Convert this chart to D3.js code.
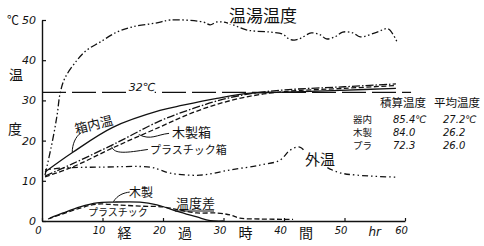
<!DOCTYPE html>
<html>
<head>
<meta charset="utf-8">
<script src="https://cdn.jsdelivr.net/npm/d3@7"></script>
<style>
  body { margin: 0; background: #fff; }
  svg { display: block; }
  text { font-family: "Noto Sans CJK JP", "Noto Sans", sans-serif; fill: #111; }
  .num { font-style: italic; font-family: "DejaVu Sans", sans-serif; }
</style>
</head>
<body>
<script>
// elapsed hours / temperature (°C)
const hotWaterT = [0.5, 1.7, 2.5, 3.0, 3.8, 5.8, 7.4, 9.6, 12.4, 15.0, 19.0, 21.2, 26.6, 27.8, 28.9, 30.6, 33.9, 37.7, 39.8, 40.8, 41.7, 42.8, 44.5, 46.0, 47.0, 48.4, 49.7, 51.4, 52.6, 55.4, 57.2, 58.7];
const hotWaterV = [11.4, 19.7, 26.4, 31.8, 35.6, 40.0, 42.5, 44.5, 47.0, 48.3, 49.3, 50.0, 49.5, 48.8, 49.5, 49.3, 47.5, 47.0, 46.5, 45.3, 45.0, 45.5, 46.8, 46.3, 45.3, 45.8, 47.0, 46.8, 45.8, 47.0, 47.8, 44.5];

const boxInT = [0.5, 5.1, 11.7, 19.5, 23.3, 28.9, 34.4, 38.8, 43.1, 49.3, 58.5];
const boxInV = [12.2, 17.1, 23.3, 27.5, 28.8, 30.5, 31.8, 32.0, 32.2, 32.5, 33.0];

const woodT = [0.5, 5, 12, 19.5, 25, 30, 35, 40, 50, 58.5];
const woodV = [11.2, 14.2, 19.2, 24.9, 28.0, 30.3, 31.8, 32.6, 33.4, 34.1];

const plasticT = [0.5, 5, 12, 19.5, 25, 30, 35, 40, 50, 58.5];
const plasticV = [11.0, 13.4, 18.4, 23.4, 27.0, 29.5, 31.2, 32.2, 33.0, 33.7];

const outsideT = [0.5, 3.5, 9.6, 17.9, 19.5, 21.2, 26.1, 31.1, 36.0, 39.3, 41.0, 42.6, 44.3, 48.8, 52.1, 58.7];
const outsideV = [12.7, 13.2, 13.4, 13.4, 12.7, 11.9, 11.4, 12.7, 13.9, 15.1, 17.6, 18.4, 15.9, 12.2, 11.4, 10.9];

const diffWoodT = [1.3, 3.5, 6.3, 9.1, 11.7, 16.2, 19.0, 22.8, 25.6, 27.8, 30];
const diffWoodV = [0.7, 2.0, 3.5, 4.5, 4.7, 4.7, 4.0, 2.2, 1.0, 0.1, 0];

const diffPlasticT = [1.0, 6.3, 9.1, 12.4, 16.2, 20.0, 22.8, 25.6, 28.9, 31.1, 32.7, 36.0, 41.5];
const diffPlasticV = [0.5, 3.2, 4.2, 4.0, 3.7, 3.5, 2.7, 2.0, 2.0, 1.5, 0.7, 0.5, 0.4];

const refTemp = 32;

const xTicks = [0, 10, 20, 30, 40, 50, 60];
const yTicks = [0, 10, 20, 30, 40, 50];
const xTitle = ["経", "過", "時", "間"];

const tableHead = ["積算温度", "平均温度"];
const tableRows = ["器内", "木製", "プラ"];
const tableSum = ["85.4℃", "84.0", "72.3"];
const tableMean = ["27.2℃", "26.2", "26.0"];

const W = 484, H = 246;
const svg = d3.select("body").append("svg").attr("width", W).attr("height", H);

const x = d3.scaleLinear().domain([0, 60]).range([42, 405]);
const y = d3.scaleLinear().domain([0, 50]).range([221, 20]);

// axes
const yAxis = d3.axisLeft(y).tickValues(yTicks).tickSizeInner(-4).tickSizeOuter(0).tickFormat(d3.format("d"));
const gy = svg.append("g").attr("transform", `translate(${x(0)},0)`).call(yAxis);
gy.select(".domain").attr("stroke", "#111").attr("stroke-width", 1.4);
gy.selectAll(".tick line").attr("stroke", "#111").attr("stroke-width", 1.2);
gy.selectAll(".tick text").attr("class", "num").attr("x", -6).attr("font-size", 11).attr("fill", "#111");

const xAxis = d3.axisBottom(x).tickValues(xTicks).tickSizeInner(-3).tickSizeOuter(0).tickFormat(d3.format("d"));
const gx = svg.append("g").attr("transform", `translate(0,${y(0)})`).call(xAxis);
gx.select(".domain").attr("stroke", "#111").attr("stroke-width", 1.4);
gx.selectAll(".tick line").attr("stroke", "#111").attr("stroke-width", 1.2);
gx.selectAll(".tick text").attr("class", "num").attr("y", 6).attr("dx", -4).attr("font-size", 10).attr("fill", "#111");

// axis titles
svg.append("text").attr("x", 13).attr("y", 25).attr("font-size", 12).attr("text-anchor", "middle").text("℃");
svg.append("text").attr("x", 16).attr("y", 80).attr("font-size", 14).attr("text-anchor", "middle").text("温");
svg.append("text").attr("x", 15).attr("y", 134).attr("font-size", 14).attr("text-anchor", "middle").text("度");
svg.selectAll(".xt").data(xTitle).join("text")
  .attr("class", "xt")
  .attr("x", (d, i) => x(xTicks[i + 1]) + 22)
  .attr("y", 238).attr("font-size", 14).attr("text-anchor", "middle").text(d => d);
svg.append("text").attr("class", "num").attr("x", x(55)).attr("y", 236)
  .attr("font-size", 12).attr("text-anchor", "middle").text("hr");

// 32°C reference line
svg.append("line")
  .attr("x1", x(0)).attr("x2", x(61))
  .attr("y1", y(refTemp)).attr("y2", y(refTemp))
  .attr("stroke", "#111").attr("stroke-width", 1.2).attr("stroke-dasharray", "24,6");
svg.append("rect").attr("x", x(14)).attr("y", y(refTemp) - 10).attr("width", 28).attr("height", 11).attr("fill", "#fff");
svg.append("text").attr("class", "num").attr("x", x(14) + 2).attr("y", y(refTemp) - 1)
  .attr("font-size", 11).text("32℃");

const line = d3.line().x(d => x(d[0])).y(d => y(d[1])).curve(d3.curveCatmullRom);
const zip = (a, b) => a.map((t, i) => [t, b[i]]);

const series = [
  { t: hotWaterT, v: hotWaterV, dash: "7,2.5,1.5,2.5,1.5,2.5" },
  { t: boxInT, v: boxInV, dash: null },
  { t: woodT, v: woodV, dash: "8,2,1.5,2" },
  { t: plasticT, v: plasticV, dash: "5,2.5" },
  { t: outsideT, v: outsideV, dash: "1.5,3,1.5,3,6,3" },
  { t: diffWoodT, v: diffWoodV, dash: null },
  { t: diffPlasticT, v: diffPlasticV, dash: "5,2.5" }
];

svg.append("g").selectAll("path").data(series).join("path")
  .attr("d", d => line(zip(d.t, d.v)))
  .attr("fill", "none")
  .attr("stroke", "#111")
  .attr("stroke-width", 1.3)
  .attr("stroke-dasharray", d => d.dash);

// labels
const lab = (txt, px, py, size, rot) => {
  const t = svg.append("text").attr("x", px).attr("y", py).attr("font-size", size).text(txt);
  if (rot) t.attr("transform", `rotate(${rot},${px},${py})`);
  return t;
};
svg.append("rect").attr("x", 228).attr("y", 6).attr("width", 76).attr("height", 18).attr("fill", "#fff");
lab("温湯温度", 229, 22, 17);

lab("箱内温", 76, 134, 13, -14);
svg.append("path").attr("d", `M${x(5)},${y(17.1)} C${x(5)},${y(19)} ${x(5.5)},${y(21)} ${x(6.5)},${y(22)}`)
  .attr("fill", "none").attr("stroke", "#111").attr("stroke-width", 1);

svg.append("path").attr("d", `M${x(16)},${y(21.5)} C${x(18)},${y(20)} ${x(19)},${y(21.5)} ${x(21)},${y(21.8)}`)
  .attr("fill", "none").attr("stroke", "#111").attr("stroke-width", 1);
lab("木製箱", 172, 137, 13);
svg.append("path").attr("d", `M${x(11.5)},${y(18.5)} C${x(12)},${y(16.5)} ${x(14)},${y(17)} ${x(17.5)},${y(17.8)}`)
  .attr("fill", "none").attr("stroke", "#111").attr("stroke-width", 1);
lab("プラスチック箱", 150, 154, 11);

svg.append("rect").attr("x", 304).attr("y", 150).attr("width", 44).attr("height", 17).attr("fill", "#fff");
lab("外温", 305, 165, 15);

lab("木製", 129, 197, 12);
svg.append("path").attr("d", `M${x(11.8)},${y(4.8)} C${x(12.5)},${y(6.5)} ${x(13.5)},${y(7)} ${x(14.5)},${y(7.2)}`)
  .attr("fill", "none").attr("stroke", "#111").attr("stroke-width", 1);
lab("プラスチック", 88, 216, 10);
lab("温度差", 176, 208, 13);
svg.append("line").attr("x1", 175).attr("x2", 214).attr("y1", 211).attr("y2", 211)
  .attr("stroke", "#111").attr("stroke-width", 1);

// table
const tb = svg.append("g");
tb.selectAll(".th").data(tableHead).join("text").attr("class", "th")
  .attr("x", (d, i) => [380, 434][i]).attr("y", 107).attr("font-size", 11.5).text(d => d);
tb.selectAll(".tr").data(tableRows).join("text").attr("class", "tr")
  .attr("x", 353).attr("y", (d, i) => 123 + i * 13).attr("font-size", 9.5).text(d => d);
tb.selectAll(".ts").data(tableSum).join("text").attr("class", "ts num")
  .attr("x", 393).attr("y", (d, i) => 123 + i * 13).attr("font-size", 10).text(d => d);
tb.selectAll(".tm").data(tableMean).join("text").attr("class", "tm num")
  .attr("x", 443).attr("y", (d, i) => 123 + i * 13).attr("font-size", 10).text(d => d);
</script>
</body>
</html>
